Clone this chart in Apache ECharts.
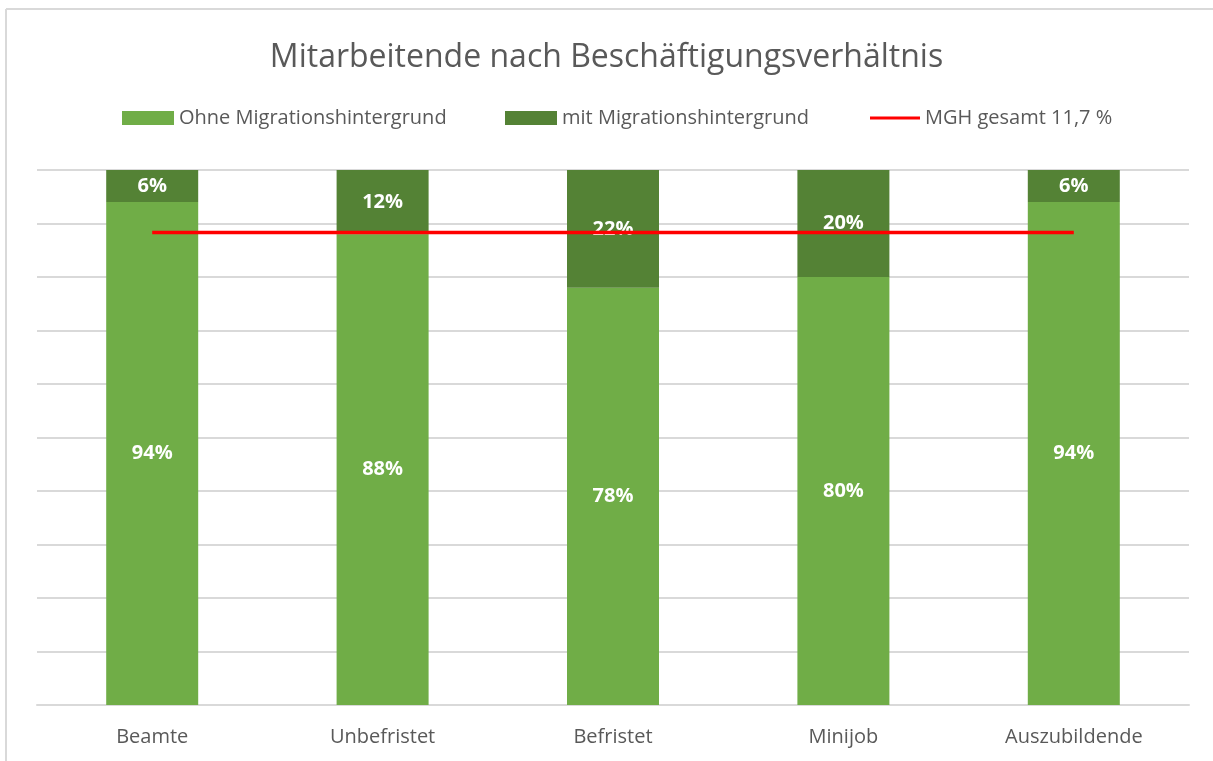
<!DOCTYPE html>
<html>
<head>
<meta charset="utf-8">
<script src="https://cdn.jsdelivr.net/npm/echarts@6/dist/echarts.min.js"></script>
<style>
  html, body { margin: 0; padding: 0; background: #fff; }
  #main { width: 1213px; height: 761px; }
</style>
</head>
<body>
<div id="main"></div>
<script>
var categories = ['Beamte', 'Unbefristet', 'Befristet', 'Minijob', 'Auszubildende'];
var ohneMGH = [94, 88, 78, 80, 94];
var mitMGH = [6, 12, 22, 20, 6];
// Linie liegt bei 100 - 11,7 im gestapelten Balken
var mghGesamt = [88.3, 88.3, 88.3, 88.3, 88.3];

var dom = document.getElementById('main');
var myChart = echarts.init(dom);
var font = '"Open Sans", sans-serif';
var grau = '#595959';

var option = {
    backgroundColor: '#fff',
    animation: false,
    title: {
        text: 'Mitarbeitende nach Beschäftigungsverhältnis',
        left: 'center',
        top: 37,
        textStyle: { fontFamily: font, fontSize: 32, fontWeight: 'normal', color: grau }
    },
    legend: [
        {
            left: 117, top: 103, itemWidth: 52, itemHeight: 14, icon: 'rect',
            data: ['Ohne Migrationshintergrund'],
            textStyle: { fontFamily: font, fontSize: 20, color: grau }
        },
        {
            left: 500, top: 103, itemWidth: 52, itemHeight: 14, icon: 'rect',
            data: ['mit Migrationshintergrund'],
            textStyle: { fontFamily: font, fontSize: 20, color: grau }
        },
        {
            left: 865, top: 103, itemWidth: 50, itemHeight: 3,
            data: [{ name: 'MGH gesamt 11,7 %', icon: 'rect' }],
            textStyle: { fontFamily: font, fontSize: 20, color: grau }
        }
    ],
    grid: { left: 37, right: 24, top: 170, bottom: 56 },
    xAxis: {
        type: 'category',
        data: categories,
        axisTick: { show: false },
        axisLine: { lineStyle: { color: '#d9d9d9', width: 2 } },
        axisLabel: { fontFamily: font, fontSize: 20, color: grau, margin: 22 }
    },
    yAxis: {
        type: 'value',
        min: 0, max: 100, interval: 10,
        axisLabel: { show: false },
        axisLine: { show: false },
        axisTick: { show: false },
        splitLine: { lineStyle: { color: '#d9d9d9', width: 2 } }
    },
    graphic: [
        { type: 'line', shape: { x1: 6, y1: 9, x2: 1213, y2: 9 }, style: { stroke: '#d9d9d9', lineWidth: 2 } },
        { type: 'line', shape: { x1: 6, y1: 9, x2: 6, y2: 761 }, style: { stroke: '#d9d9d9', lineWidth: 2 } }
    ],
    series: [
        {
            name: 'Ohne Migrationshintergrund',
            type: 'bar',
            stack: 'gesamt',
            barWidth: 92,
            data: ohneMGH,
            itemStyle: { color: '#70ad47' },
            label: {
                show: true, position: 'inside', formatter: '{c}%',
                fontFamily: font, fontSize: 20, fontWeight: 'bold', color: '#fff'
            }
        },
        {
            name: 'mit Migrationshintergrund',
            type: 'bar',
            stack: 'gesamt',
            barWidth: 92,
            data: mitMGH,
            itemStyle: { color: '#548235' },
            label: {
                show: true, position: 'inside', formatter: '{c}%',
                fontFamily: font, fontSize: 20, fontWeight: 'bold', color: '#fff'
            }
        },
        {
            name: 'MGH gesamt 11,7 %',
            type: 'line',
            data: mghGesamt,
            symbol: 'none',
            z: 5,
            itemStyle: { color: '#ff0000' },
            lineStyle: { color: '#ff0000', width: 3.5 }
        }
    ]
};

if (option && typeof option === "object") {
    myChart.setOption(option, true);
}
</script>
</body>
</html>
